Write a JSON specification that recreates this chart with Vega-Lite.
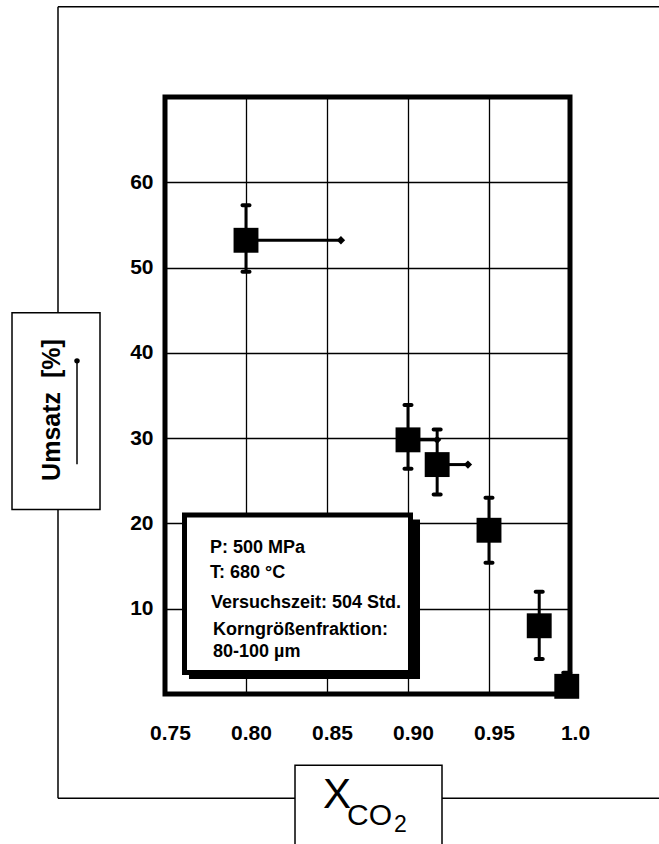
{
  "$schema": "https://vega.github.io/schema/vega-lite/v6.json",
  "width": 405,
  "height": 597,
  "autosize": {"type": "none"},
  "padding": {"left": 165, "top": 97, "right": 89, "bottom": 150},
  "background": "white",
  "config": {
    "font": "Liberation Sans",
    "view": {"stroke": "black", "strokeWidth": 5}
  },
  "datasets": {
    "pts": [
      {"x": 0.80, "y": 53.2, "lo": 49.5, "hi": 57.3, "xr": 0.8586},
      {"x": 0.90, "y": 29.8, "lo": 26.4, "hi": 33.9, "xr": 0.918},
      {"x": 0.918, "y": 26.9, "lo": 23.4, "hi": 31.0, "xr": 0.937},
      {"x": 0.95, "y": 19.2, "lo": 15.4, "hi": 23.0},
      {"x": 0.981, "y": 8.0, "lo": 4.1, "hi": 12.0},
      {"x": 0.998, "y": 0.9, "lo": 0.0, "hi": 2.5}
    ],
    "one": [{}]
  },
  "layer": [
    {
      "data": {"name": "pts"},
      "mark": {"type": "rule", "strokeWidth": 3, "color": "black"},
      "encoding": {
        "x": {"field": "x", "type": "quantitative", "title": null,
              "scale": {"domain": [0.75, 1.0], "nice": false, "zero": false},
              "axis": {"values": [0.75, 0.8, 0.85, 0.9, 0.95, 1.0], "labelExpr": "datum.value == 1 ? '1.0' : format(datum.value, '.2f')",
                       "ticks": false, "domain": false, "grid": true, "gridColor": "black", "gridWidth": 1.3, "gridOpacity": 1,
                       "labelFont": "Liberation Sans", "labelFontSize": 21, "labelFontWeight": "bold", "labelColor": "black",
                       "labelPadding": 28, "labelOffset": 5, "labelFlush": false, "labelOverlap": false}},
        "y": {"field": "lo", "type": "quantitative", "title": null,
              "scale": {"domain": [0, 70], "nice": false, "zero": false},
              "axis": {"values": [10, 20, 30, 40, 50, 60], "ticks": false, "domain": false, "grid": true, "gridColor": "black", "gridWidth": 1.3, "gridOpacity": 1,
                       "labelFont": "Liberation Sans", "labelFontSize": 21, "labelFontWeight": "bold", "labelColor": "black",
                       "labelPadding": 12, "labelFlush": false, "labelOverlap": false}},
        "y2": {"field": "hi"}
      }
    },
    {
      "data": {"name": "pts"},
      "mark": {"type": "tick", "orient": "horizontal", "size": 11, "thickness": 4, "color": "black", "cornerRadius": 2, "opacity": 1},
      "encoding": {"x": {"field": "x", "type": "quantitative"}, "y": {"field": "lo", "type": "quantitative"}}
    },
    {
      "data": {"name": "pts"},
      "mark": {"type": "tick", "orient": "horizontal", "size": 11, "thickness": 4, "color": "black", "cornerRadius": 2, "opacity": 1},
      "encoding": {"x": {"field": "x", "type": "quantitative"}, "y": {"field": "hi", "type": "quantitative"}}
    },
    {
      "data": {"name": "pts"},
      "transform": [{"filter": "isValid(datum.xr)"}],
      "mark": {"type": "rule", "strokeWidth": 3, "color": "black"},
      "encoding": {"x": {"field": "x", "type": "quantitative"}, "x2": {"field": "xr"}, "y": {"field": "y", "type": "quantitative"}}
    },
    {
      "data": {"name": "pts"},
      "transform": [{"filter": "isValid(datum.xr)"}],
      "mark": {"type": "point", "shape": "diamond", "filled": true, "size": 70, "color": "black", "opacity": 1},
      "encoding": {"x": {"field": "xr", "type": "quantitative"}, "y": {"field": "y", "type": "quantitative"}}
    },
    {
      "data": {"name": "pts"},
      "mark": {"type": "point", "shape": "square", "filled": true, "size": 620, "color": "black", "opacity": 1},
      "encoding": {"x": {"field": "x", "type": "quantitative"}, "y": {"field": "y", "type": "quantitative"}}
    },
    {
      "data": {"name": "one"},
      "mark": {"type": "rect", "color": "black"},
      "encoding": {"x": {"datum": 0.76481}, "x2": {"datum": 0.90741}, "y": {"datum": 20.47}, "y2": {"datum": 1.765}}
    },
    {
      "data": {"name": "one"},
      "mark": {"type": "rect", "fill": "white", "stroke": "black", "strokeWidth": 5},
      "encoding": {"x": {"datum": 0.76204}, "x2": {"datum": 0.90154}, "y": {"datum": 21.0}, "y2": {"datum": 2.529}}
    },
    {
      "data": {"name": "one"},
      "mark": {"type": "text", "text": "P: 500 MPa", "align": "left", "baseline": "alphabetic", "fontSize": 18, "fontWeight": "bold", "color": "black"},
      "encoding": {"x": {"datum": 0.77778}, "y": {"datum": 16.588}}
    },
    {
      "data": {"name": "one"},
      "mark": {"type": "text", "text": "T: 680 °C", "align": "left", "baseline": "alphabetic", "fontSize": 18, "fontWeight": "bold", "color": "black"},
      "encoding": {"x": {"datum": 0.77778}, "y": {"datum": 13.647}}
    },
    {
      "data": {"name": "one"},
      "mark": {"type": "text", "text": "Versuchszeit: 504 Std.", "align": "left", "baseline": "alphabetic", "fontSize": 18, "fontWeight": "bold", "color": "black"},
      "encoding": {"x": {"datum": 0.77840}, "y": {"datum": 10.118}}
    },
    {
      "data": {"name": "one"},
      "mark": {"type": "text", "text": "Korngrößenfraktion:", "align": "left", "baseline": "alphabetic", "fontSize": 18, "fontWeight": "bold", "color": "black"},
      "encoding": {"x": {"datum": 0.77963}, "y": {"datum": 6.941}}
    },
    {
      "data": {"name": "one"},
      "mark": {"type": "text", "text": "80-100 µm", "align": "left", "baseline": "alphabetic", "fontSize": 18, "fontWeight": "bold", "color": "black"},
      "encoding": {"x": {"datum": 0.77963}, "y": {"datum": 4.353}}
    },
    {
      "data": {"name": "one"},
      "mark": {"type": "rule", "strokeWidth": 1.5, "color": "black"},
      "encoding": {"x": {"datum": 0.68395}, "x2": {"datum": 1.06}, "y": {"datum": 80.588}}
    },
    {
      "data": {"name": "one"},
      "mark": {"type": "rule", "strokeWidth": 1.5, "color": "black"},
      "encoding": {"x": {"datum": 0.68395}, "y": {"datum": 80.588}, "y2": {"datum": -12.235}}
    },
    {
      "data": {"name": "one"},
      "mark": {"type": "rule", "strokeWidth": 1.5, "color": "black"},
      "encoding": {"x": {"datum": 0.68395}, "x2": {"datum": 1.06}, "y": {"datum": -12.235}}
    },
    {
      "data": {"name": "one"},
      "mark": {"type": "rect", "fill": "white", "stroke": "black", "strokeWidth": 1.5},
      "encoding": {"x": {"datum": 0.65556}, "x2": {"datum": 0.70988}, "y": {"datum": 44.706}, "y2": {"datum": 21.647}}
    },
    {
      "data": {"name": "one"},
      "mark": {"type": "rect", "fill": "white", "stroke": "black", "strokeWidth": 1.5},
      "encoding": {"x": {"datum": 0.83025}, "x2": {"datum": 0.92099}, "y": {"datum": -8.353}, "y2": {"datum": -20.0}}
    },
    {
      "data": {"name": "one"},
      "mark": {"type": "text", "text": "Umsatz\u00a0\u00a0[%]", "angle": 270, "align": "center", "baseline": "middle", "fontSize": 25, "fontWeight": "bold", "color": "black"},
      "encoding": {"x": {"datum": 0.68025}, "y": {"datum": 33.294}}
    },
    {
      "data": {"name": "one"},
      "mark": {"type": "rule", "strokeWidth": 1.5, "color": "black"},
      "encoding": {"x": {"datum": 0.69568}, "y": {"datum": 26.94}, "y2": {"datum": 39.06}}
    },
    {
      "data": {"name": "one"},
      "mark": {"type": "point", "shape": "circle", "filled": true, "size": 30, "color": "black", "opacity": 1},
      "encoding": {"x": {"datum": 0.69568}, "y": {"datum": 39.06}}
    },
    {
      "data": {"name": "one"},
      "mark": {"type": "text", "text": "X", "align": "left", "baseline": "alphabetic", "fontSize": 42, "color": "black"},
      "encoding": {"x": {"datum": 0.84753}, "y": {"datum": -13.412}}
    },
    {
      "data": {"name": "one"},
      "mark": {"type": "text", "text": "CO", "align": "left", "baseline": "alphabetic", "fontSize": 30, "color": "black"},
      "encoding": {"x": {"datum": 0.86235}, "y": {"datum": -15.412}}
    },
    {
      "data": {"name": "one"},
      "mark": {"type": "text", "text": "2", "align": "left", "baseline": "alphabetic", "fontSize": 23, "color": "black"},
      "encoding": {"x": {"datum": 0.89136}, "y": {"datum": -16.235}}
    }
  ]
}
